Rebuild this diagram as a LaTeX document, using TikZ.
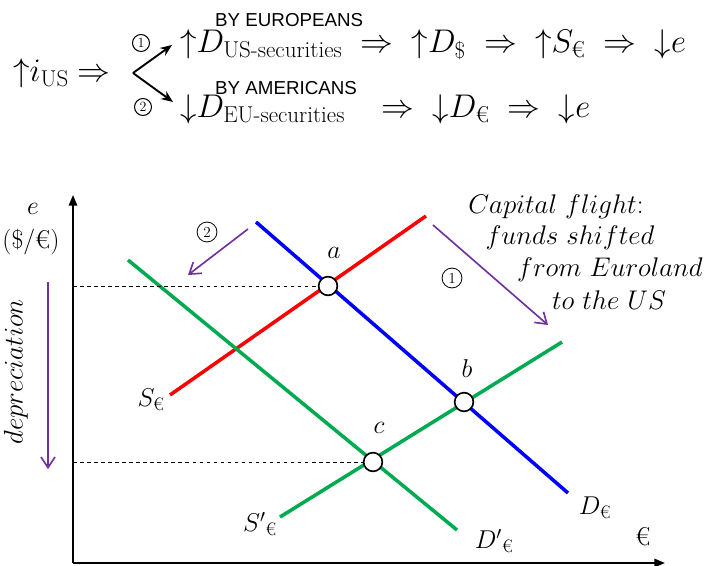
\RequirePackage{fix-cm}
\documentclass[tikz,border=0pt]{standalone}
\usepackage{amsmath}
\usepackage{fontspec}
\newfontfamily\libsans{Liberation Sans}
\usetikzlibrary{arrows.meta}
\newcommand{\eur}{\text{\normalfont €}}
\newcommand{\up}{\mathord{\uparrow}}
\newcommand{\dn}{\mathord{\downarrow}}
\newcommand{\imp}{\;\Rightarrow\;}
\definecolor{myred}{RGB}{255,0,0}
\definecolor{myblue}{RGB}{0,0,255}
\definecolor{mygreen}{RGB}{0,170,80}
\definecolor{mypurple}{RGB}{112,48,160}
\tikzset{
  curve/.style={line width=3pt},
  eqpt/.style={circle,draw=black,fill=white,line width=1.4pt,minimum size=16pt,inner sep=0pt},
  guide/.style={dashed,line width=0.8pt},
  axis/.style={line width=1.8pt,-{Triangle[length=9pt,width=7pt]}},
  shiftarrow/.style={mypurple,line width=1.4pt,-{Straight Barb[length=9pt,width=12pt]}},
  lbl/.style={font=\fontsize{22}{26}\selectfont,inner sep=0pt},
  note/.style={font=\fontsize{23}{26}\selectfont,inner sep=0pt},
  big/.style={font=\fontsize{28}{32}\selectfont,inner sep=0pt},
  tiny/.style={font=\libsans\fontsize{16}{18}\selectfont,inner sep=0pt},
  circ/.style={circle,draw=black,line width=0.7pt,inner sep=0pt,minimum size=17pt,font=\fontsize{13}{15}\selectfont},
  circs/.style={circ,minimum size=14.5pt,line width=0.9pt,font=\fontsize{12}{14}\selectfont},
  branch/.style={line width=1.6pt,-{Stealth[length=10pt,width=8pt]}}
}
\begin{document}
\begin{tikzpicture}[x=0.03cm,y=-0.03cm]
\useasboundingbox (0,0) rectangle (704,566);
% formula
\node[big,anchor=base west] (iup) at (13,82) {$\up i_{\text{US}} \Rightarrow$};
\coordinate (br) at (133,73);
\coordinate (up1) at (172,45);
\coordinate (dn2) at (173,102);
\draw[branch] (br) -- (up1);
\draw[branch] (br) -- (dn2);
\node[circs] (c1) at (141,43) {1};
\node[circs] (c2) at (143,107) {2};
\node[big,anchor=base west] (line1) at (180,53) {$\up D_{\text{US-securities}} \imp \up D_{\$} \imp \up S_{\eur} \imp \dn e$};
\node[big,anchor=base west] (line2) at (180,118) {$\dn D_{\text{EU-securities}} \;\;\imp \dn D_{\eur} \imp \dn e$};
\node[tiny,anchor=west] (byeu) at (215,20) {BY EUROPEANS};
\node[tiny,anchor=west] (byam) at (215,88) {BY AMERICANS};
% axes
\coordinate (O) at (73,563);
\coordinate (ytop) at (73,195);
\coordinate (xend) at (665,563);
\draw[axis] (O) -- (ytop);
\draw[axis] (O) -- (xend);
\node[lbl] (elab) at (33,209) {$e$};
\node[lbl] (unit) at (31,242) {(\$/€)};
\node[note,rotate=90] (dep) at (16,372) {$depreciation$};
\coordinate (dtop) at (48,282);
\coordinate (dbot) at (48,469);
\draw[shiftarrow] (dtop) -- (dbot);
\node[lbl] (euro) at (643,537) {€};
% curves
\coordinate (S1) at (170,395); \coordinate (S2) at (426,216);
\coordinate (D1) at (256,222); \coordinate (D2) at (568,493);
\coordinate (Dp1) at (128,260); \coordinate (Dp2) at (457,530);
\coordinate (Sp1) at (280,517); \coordinate (Sp2) at (562,342);
\draw[curve,myred] (S1) -- (S2);
\draw[curve,myblue] (D1) -- (D2);
\draw[curve,mygreen] (Dp1) -- (Dp2);
\draw[curve,mygreen] (Sp1) -- (Sp2);
\coordinate (ya) at (73,286);
\coordinate (yc) at (73,462);
\node[eqpt] (a) at (328,286) {};
\node[eqpt] (b) at (464,402) {};
\node[eqpt] (c) at (373,462) {};
\draw[guide] (ya) -- (a);
\draw[guide] (yc) -- (c);
\node[lbl] (la) at (334,253) {$a$};
\node[lbl] (lb) at (467,369) {$b$};
\node[lbl] (lc) at (379,428) {$c$};
\node[lbl] (lS) at (151,400) {$S_{\eur}$};
\node[lbl] (lSp) at (260,524) {${S'}_{\eur}$};
\node[lbl] (lDp) at (494,541) {${D'}_{\eur}$};
\node[lbl] (lD) at (595,508) {$D_{\eur}$};
% shifts
\coordinate (a2s) at (248,229); \coordinate (a2e) at (188,275);
\coordinate (a1s) at (433,225); \coordinate (a1e) at (548,325);
\draw[shiftarrow] (a2s) -- (a2e);
\draw[shiftarrow] (a1s) -- (a1e);
\node[circ] (n2) at (207,232) {2};
\node[circ] (n1) at (452,278) {1};
\node[note] (cap1) at (556,207) {$Capital\ flight$:};
\node[note] (cap2) at (570,238) {$funds\ shifted$};
\node[note] (cap3) at (610,270) {$from\ Euroland$};
\node[note] (cap4) at (609,300) {$to\ the\ US$};
\end{tikzpicture}
\end{document}
